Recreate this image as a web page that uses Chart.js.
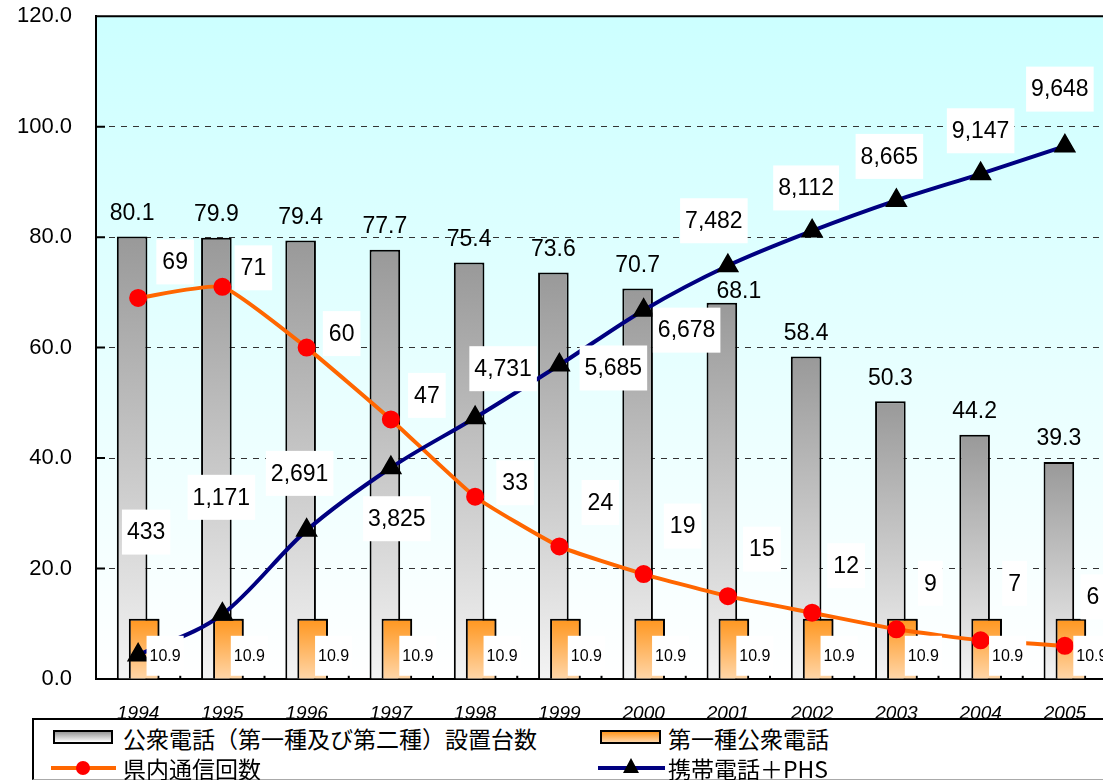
<!DOCTYPE html>
<html>
<head>
<meta charset="utf-8">
<script src="https://cdn.jsdelivr.net/npm/chart.js"></script>
<style>
html, body { margin: 0; padding: 0; background: #fff; overflow: hidden; width: 1103px; height: 780px; }
#wrap { position: absolute; left: 0; top: -21px; width: 1120px; height: 745px; }
#legend { position: absolute; left: 32px; top: 718px; width: 1100px; height: 62px; background: #fff;
  border-top: 2px solid #000; border-left: 2px solid #000; border-bottom: 1px solid #aaa; box-sizing: border-box; }
.txt { position: absolute; font-family: "Noto Sans CJK JP", sans-serif; font-size: 23px; line-height: 30px; color: #000; white-space: nowrap; }
.sym { position: absolute; box-sizing: border-box; }
</style>
</head>
<body>
<div id="wrap"><canvas id="chart" width="1120" height="745"></canvas></div>
<div id="legend"></div>
<div class="sym" style="left:53px;top:730px;width:60px;height:14px;border:2px solid #000;background:linear-gradient(#999,#fff)"></div>
<div class="txt" style="left:123px;top:723px">公衆電話（第一種及び第二種）設置台数</div>
<div class="sym" style="left:600px;top:730px;width:61px;height:14px;border:2px solid #000;background:linear-gradient(#ff961e,#ffd6a8)"></div>
<div class="txt" style="left:668px;top:723px">第一種公衆電話</div>
<div class="sym" style="left:51px;top:766px;width:65px;height:4px;background:#ff6600"></div>
<div class="sym" style="left:76px;top:761px;width:14px;height:14px;border-radius:50%;background:#ff0000"></div>
<div class="txt" style="left:123px;top:753px">県内通信回数</div>
<div class="sym" style="left:598px;top:766px;width:67px;height:4px;background:#000080"></div>
<div class="sym" style="left:623px;top:758px;width:0;height:0;border-left:8px solid transparent;border-right:8px solid transparent;border-bottom:15px solid #000"></div>
<div class="txt" style="left:668px;top:753px">携帯電話＋PHS</div>

<script>
// values
const years = ["1994", "1995", "1996", "1997", "1998", "1999", "2000", "2001", "2002", "2003", "2004", "2005"];
const publicPhones = [80.1, 79.9, 79.4, 77.7, 75.4, 73.6, 70.7, 68.1, 58.4, 50.3, 44.2, 39.3];
const type1Phones = [10.9, 10.9, 10.9, 10.9, 10.9, 10.9, 10.9, 10.9, 10.9, 10.9, 10.9, 10.9];
const prefCalls = [69, 71, 60, 47, 33, 24, 19, 15, 12, 9, 7, 6];
const mobilePhs = [433, 1171, 2691, 3825, 4731, 5685, 6678, 7482, 8112, 8665, 9147, 9648];
const yTicks = [0, 20, 40, 60, 80, 100, 120];

// label placement (pixel offsets from the point they belong to)
const barLabelOffsets = [[0,-23],[0,-23],[0,-23],[0,-23],[0,-23],[0,-23],[0,-23],[17,-11],[0,-23],[0,-23],[0,-23],[0,-23]];
const callLabelOffsets = [[37,-36],[31,-19],[35,-14],[36,-24],[40,-14],[41,-44],[39,-48],[34,-47],[34,-47],[34,-46],[34,-57],[28,-49]];
const mobileLabelOffsets = [[8,-123],[-1,-117],[-7,-57],[6,51],[28,-49],[54,3],[43,20],[-14,-45],[-6,-43],[-7,-44],[0,-43],[-5,-57]];

const numFont = '"Liberation Sans", Arial, sans-serif';
const GRAY = 2, ORANGE = 3;

function barGradient(c0, c1) {
    return (ctx) => {
        const chart = ctx.chart;
        if (!chart.chartArea || ctx.raw === undefined) return c0;
        const y = chart.scales.y;
        const g = chart.ctx.createLinearGradient(0, y.getPixelForValue(ctx.raw), 0, y.getPixelForValue(0));
        g.addColorStop(0, c0);
        g.addColorStop(1, c1);
        return g;
    };
}

function labelBox(ctx, text, cx, cy, size, padX, h) {
    ctx.font = size + "px " + numFont;
    const w = ctx.measureText(text).width + padX * 2;
    ctx.fillStyle = "#fff";
    ctx.fillRect(cx - w / 2, cy - h / 2, w, h);
    ctx.fillStyle = "#000";
    ctx.textAlign = "center";
    ctx.textBaseline = "middle";
    ctx.fillText(text, cx, cy + 1);
}

const decorations = {
    id: "decorations",
    beforeDraw(chart) {
        const { ctx, chartArea: a } = chart;
        const g = ctx.createLinearGradient(0, a.top, 0, a.bottom);
        g.addColorStop(0, "#ccffff");
        g.addColorStop(1, "#ffffff");
        ctx.save();
        ctx.fillStyle = g;
        ctx.fillRect(a.left, a.top, a.right - a.left, a.bottom - a.top);
        ctx.restore();
    },
    afterDatasetDraw(chart, args) {
        // the orange bars sit to the right of the gray ones but are painted over them
        if (args.index === GRAY) {
            chart.getDatasetMeta(ORANGE).data.forEach(el => el.draw(chart.ctx));
        }
    },
    afterDatasetsDraw(chart) {
        const { ctx, chartArea: a, scales } = chart;
        ctx.save();
        // top frame line and inward ticks
        ctx.strokeStyle = "#000";
        ctx.lineWidth = 2;
        ctx.beginPath();
        ctx.moveTo(a.left, a.top);
        ctx.lineTo(a.right, a.top);
        yTicks.forEach(v => {
            const py = scales.y.getPixelForValue(v);
            ctx.moveTo(a.left, py);
            ctx.lineTo(a.left + 9, py);
        });
        const step = (a.right - a.left) / years.length;
        for (let i = 1; i < years.length; i++) {
            const px = a.left + step * i;
            ctx.moveTo(px, a.bottom);
            ctx.lineTo(px, a.bottom - 9);
        }
        ctx.stroke();

        // data labels
        const barMeta = chart.getDatasetMeta(GRAY);
        const type1Meta = chart.getDatasetMeta(ORANGE);
        const callMeta = chart.getDatasetMeta(0);
        const mobileMeta = chart.getDatasetMeta(1);

        publicPhones.forEach((v, i) => {
            const el = barMeta.data[i];
            const [dx, dy] = barLabelOffsets[i];
            ctx.font = "23px " + numFont;
            ctx.fillStyle = "#000";
            ctx.textAlign = "center";
            ctx.textBaseline = "middle";
            ctx.fillText(v.toFixed(1), el.x + dx, el.y + dy);
        });
        type1Phones.forEach((v, i) => {
            const el = type1Meta.data[i];
            labelBox(ctx, v.toFixed(1), scales.x.getPixelForValue(i) + 27, el.y + 37, 16, 3, 40);
        });
        prefCalls.forEach((v, i) => {
            const el = callMeta.data[i];
            const [dx, dy] = callLabelOffsets[i];
            labelBox(ctx, String(v), el.x + dx, el.y + dy, 23, 6, 45);
        });
        mobilePhs.forEach((v, i) => {
            const el = mobileMeta.data[i];
            const [dx, dy] = mobileLabelOffsets[i];
            labelBox(ctx, v.toLocaleString("en-US"), el.x + dx, el.y + dy, 23, 5, 45);
        });
        ctx.restore();
    }
};

new Chart(document.getElementById("chart"), {
    data: {
        labels: years,
        datasets: [
            {
                type: "line",
                label: "県内通信回数",
                data: prefCalls,
                borderColor: "#ff6600",
                borderWidth: 4,
                tension: 0.15,
                pointRadius: 7,
                pointBackgroundColor: "#ff0000",
                pointBorderColor: "#ff0000",
                order: 1
            },
            {
                type: "line",
                label: "携帯電話＋PHS",
                data: mobilePhs.map(v => v / 100),
                borderColor: "#000080",
                borderWidth: 4,
                cubicInterpolationMode: "monotone",
                pointStyle: "triangle",
                pointRadius: 9,
                pointBackgroundColor: "#000",
                pointBorderColor: "#000",
                order: 0
            },
            {
                type: "bar",
                label: "公衆電話（第一種及び第二種）設置台数",
                data: publicPhones,
                backgroundColor: barGradient("#999999", "#f4f4f4"),
                borderColor: "#000",
                borderWidth: 2,
                categoryPercentage: 0.285,
                barPercentage: 2.55,
                order: 2
            },
            {
                type: "bar",
                label: "第一種公衆電話",
                data: type1Phones,
                backgroundColor: barGradient("#ff961e", "#ffd6a8"),
                borderColor: "#000",
                borderWidth: 2,
                categoryPercentage: 0.285,
                barPercentage: 2.55,
                order: 3
            }
        ]
    },
    options: {
        responsive: false,
        animation: false,
        layout: { padding: { top: 4, right: 4, left: 0, bottom: 0 } },
        plugins: { legend: { display: false }, tooltip: { enabled: false } },
        scales: {
            x: {
                grid: { display: false, drawTicks: false },
                border: { color: "#000", width: 2 },
                ticks: { color: "#000", padding: 23, font: { family: numFont, size: 19, style: "italic" } },
                afterFit: s => { s.height = 45; }
            },
            y: {
                min: 0,
                max: 120,
                grid: {
                    drawTicks: false,
                    color: c => (c.tick && (c.tick.value === 120 || c.tick.value === 0)) ? "rgba(0,0,0,0)" : "#333",
                    lineWidth: 1
                },
                border: { color: "#000", width: 2, dash: [6, 6] },
                ticks: {
                    stepSize: 20,
                    padding: 24,
                    color: "#000",
                    font: { family: numFont, size: 22 },
                    callback: v => v.toFixed(1)
                },
                afterFit: s => { s.width = 96; }
            }
        }
    },
    plugins: [decorations]
});
</script>
</body>
</html>
